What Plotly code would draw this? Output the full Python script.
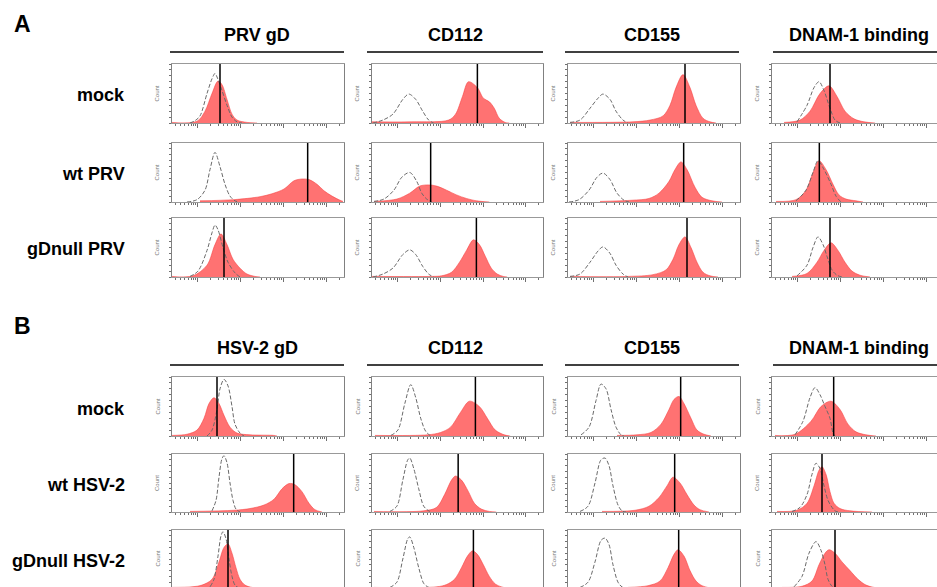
import math
import plotly.graph_objects as go

W, H = 937, 587

# ---------------- data: (fluorescence channel, % of max count) ----------------
# Panel A (PRV)
A_mock_PRVgD_ctrl = ([108,138,168,210,240,258,270,300,330,360,390,420],[0,4,12,50,75,84,78,55,30,10,2,0])
A_mock_PRVgD_red = ([0,150,198,240,276,300,330,360,390,450,510],[1,3,20,50,71,65,40,15,5,1,0])
A_mock_CD112_ctrl = ([6,66,126,186,222,264,306,342,372],[0,5,15,40,49,40,20,5,0])
A_mock_CD112_red = ([0,240,462,504,546,582,636,672,708,738,768,804,828],[2,2,5,15,45,70,60,42,36,25,8,1,0])
A_mock_CD155_ctrl = ([12,72,132,180,210,252,288,330,360],[1,5,25,42,49,40,20,5,0])
A_mock_CD155_red = ([12,390,492,570,612,648,690,732,768,810,852,888],[1,2,5,12,30,60,82,60,30,8,2,0])
A_mock_DNAM_ctrl = ([150,210,252,282,312,348,378,408],[2,30,60,70,55,25,5,0])
A_mock_DNAM_red = ([72,168,228,288,342,390,438,492,552,618],[1,5,20,50,63,45,20,7,2,0])

A_wt_PRVgD_ctrl = ([90,150,198,228,258,288,318,348,378,402],[0,4,20,55,84,60,30,10,2,0])
A_wt_PRVgD_red = ([168,372,528,600,672,732,780,822,870,912,960,1008,1026],[2,4,9,14,22,36,39,38,30,19,10,3,1])
A_wt_CD112_ctrl = ([12,72,132,180,228,270,300,330,360],[1,5,20,42,50,35,15,5,0])
A_wt_CD112_red = ([12,150,228,288,342,390,450,510,570,630,708],[1,5,15,27,29,27,20,12,6,2,0])
A_wt_CD155_ctrl = ([6,66,126,174,210,252,294,336,366],[0,4,20,42,49,38,15,3,0])
A_wt_CD155_red = ([192,384,486,546,606,642,678,714,762,804,864,924],[1,3,6,15,35,55,68,55,25,8,2,0])
A_wt_DNAM_ctrl = ([144,204,246,276,312,354,384,414],[2,20,50,70,55,30,10,0])
A_wt_DNAM_red = ([24,144,204,246,282,324,366,402,444,504,546],[1,4,20,50,70,55,30,12,5,2,0])

A_null_PRVgD_ctrl = ([108,156,210,240,258,276,306,336,378,408],[1,10,45,75,88,80,50,25,7,0])
A_null_PRVgD_red = ([0,126,210,258,294,330,366,408,450,498,528],[1,2,20,55,73,55,30,15,5,1,0])
A_null_CD112_ctrl = ([6,66,126,186,228,264,306,342,372],[0,5,15,38,46,38,18,5,0])
A_null_CD112_red = ([0,360,420,480,528,570,612,648,684,720,756,792,816],[1,1,2,8,25,45,63,55,35,15,5,1,0])
A_null_CD155_ctrl = ([12,72,132,180,210,252,288,330,360],[1,5,25,44,51,40,20,5,0])
A_null_CD155_red = ([12,360,510,588,630,666,702,738,774,810,852,900],[1,1,4,12,30,55,68,50,25,8,2,0])
A_null_DNAM_ctrl = ([150,210,246,276,306,330,360,390,420],[2,20,50,68,55,35,12,3,0])
A_null_DNAM_red = ([120,210,270,312,354,396,438,480,528,588],[1,6,25,45,58,45,25,10,3,0])

# Panel B (HSV-2)
B_mock_HSVgD_ctrl = ([210,240,270,288,312,336,360,378,408,432],[0,10,45,80,96,85,50,20,5,0])
B_mock_HSVgD_red = ([0,90,150,192,222,252,282,312,348,390,468,612,630],[1,3,10,30,55,65,55,35,15,5,2,1,0])
B_mock_CD112_ctrl = ([114,156,198,234,264,294,324,354],[1,10,55,87,65,30,8,0])
B_mock_CD112_red = ([18,336,414,474,534,588,648,696,744,798,834],[1,2,6,15,40,59,50,30,10,2,0])
B_mock_CD155_ctrl = ([78,126,168,198,228,258,288,318,336],[2,15,60,88,80,45,15,2,0])
B_mock_CD155_red = ([294,414,498,558,606,636,666,696,738,774,816,858],[1,2,6,20,45,62,67,55,30,10,3,0])
B_mock_DNAM_ctrl = ([138,186,228,258,288,318,348,366,378],[2,25,65,82,70,50,30,5,0])
B_mock_DNAM_red = ([18,138,234,294,354,408,456,504,564,624],[1,3,25,50,59,45,20,7,2,0])

B_wt_HSVgD_ctrl = ([240,264,282,300,312,330,348,366,384,408],[2,20,60,92,97,85,50,20,5,0])
B_wt_HSVgD_red = ([108,372,468,552,612,660,702,738,780,822,858,900],[1,3,6,12,22,40,49,47,35,15,4,0])
B_wt_CD112_ctrl = ([108,150,186,216,228,252,282,312,342,360],[1,10,55,90,93,75,40,10,2,0])
B_wt_CD112_red = ([12,312,390,438,480,504,540,582,618,660,708,750],[1,2,8,30,55,62,55,35,15,5,1,0])
B_wt_CD155_ctrl = ([72,120,162,198,222,246,270,300,324,348],[1,10,50,90,93,80,45,12,2,0])
B_wt_CD155_red = ([204,402,486,546,594,630,672,714,756,792,846],[1,3,10,25,45,60,50,30,12,4,0])
B_wt_DNAM_ctrl = ([120,168,210,240,264,288,312,336,360,378,396],[1,8,30,65,84,75,45,20,8,2,0])
B_wt_DNAM_red = ([30,150,210,252,282,300,324,348,372,408,468,600],[1,3,15,45,72,78,65,35,15,6,2,0])

B_null_HSVgD_ctrl = ([228,252,276,294,306,324,342,360,378,402],[2,15,55,90,97,85,50,20,5,0])
B_null_HSVgD_red = ([0,120,180,240,282,312,336,360,384,408,438,480,528],[1,2,5,15,45,70,76,60,35,15,5,1,0])
B_null_CD112_ctrl = ([108,150,186,216,228,252,282,312,336,360],[1,10,50,85,88,70,35,8,2,0])
B_null_CD112_red = ([12,390,450,498,540,576,606,636,672,708,744,780,816],[1,2,6,15,35,55,64,58,40,20,7,2,0])
B_null_CD155_ctrl = ([72,120,162,198,222,246,270,300,324,348],[1,10,45,82,86,75,40,10,2,0])
B_null_CD155_red = ([360,480,552,600,636,660,696,732,768,804,852],[1,4,12,35,58,66,55,30,12,4,0])
B_null_DNAM_ctrl = ([132,180,222,264,294,318,336,360,378],[2,20,60,80,65,40,15,3,0])
B_null_DNAM_red = ([60,180,240,282,318,342,378,420,468,516,564,612,660],[1,3,12,40,60,66,60,45,30,15,5,1,0])

# median fluorescence channel of the infected/sample histogram (black line)
A_medians = [[288, 636, 702, 348], [814, 354, 694, 284], [312, 630, 714, 348]]
B_medians = [[270, 624, 676, 370], [730, 520, 640, 300], [336, 612, 664, 378]]

A_columns = ["PRV gD", "CD112", "CD155", "DNAM-1 binding"]
B_columns = ["HSV-2 gD", "CD112", "CD155", "DNAM-1 binding"]
A_rows = ["mock", "wt PRV", "gDnull PRV"]
B_rows = ["mock", "wt HSV-2", "gDnull HSV-2"]

A_ctrl = [[A_mock_PRVgD_ctrl, A_mock_CD112_ctrl, A_mock_CD155_ctrl, A_mock_DNAM_ctrl],
          [A_wt_PRVgD_ctrl, A_wt_CD112_ctrl, A_wt_CD155_ctrl, A_wt_DNAM_ctrl],
          [A_null_PRVgD_ctrl, A_null_CD112_ctrl, A_null_CD155_ctrl, A_null_DNAM_ctrl]]
A_red = [[A_mock_PRVgD_red, A_mock_CD112_red, A_mock_CD155_red, A_mock_DNAM_red],
         [A_wt_PRVgD_red, A_wt_CD112_red, A_wt_CD155_red, A_wt_DNAM_red],
         [A_null_PRVgD_red, A_null_CD112_red, A_null_CD155_red, A_null_DNAM_red]]
B_ctrl = [[B_mock_HSVgD_ctrl, B_mock_CD112_ctrl, B_mock_CD155_ctrl, B_mock_DNAM_ctrl],
          [B_wt_HSVgD_ctrl, B_wt_CD112_ctrl, B_wt_CD155_ctrl, B_wt_DNAM_ctrl],
          [B_null_HSVgD_ctrl, B_null_CD112_ctrl, B_null_CD155_ctrl, B_null_DNAM_ctrl]]
B_red = [[B_mock_HSVgD_red, B_mock_CD112_red, B_mock_CD155_red, B_mock_DNAM_red],
         [B_wt_HSVgD_red, B_wt_CD112_red, B_wt_CD155_red, B_wt_DNAM_red],
         [B_null_HSVgD_red, B_null_CD112_red, B_null_CD155_red, B_null_DNAM_red]]

# ---------------- layout geometry (pixels) ----------------
CH_MAX = 1032
col_px = [(172, 344), (372, 543), (568, 740), (772, 944)]
rows_A_px = [(64, 123), (143, 202), (218, 277)]
rows_B_px = [(377, 436), (454, 512), (530, 588)]
hdr_line_px = [(170, 344), (367, 543), (565, 739), (773, 945)]

major_ticks = [155 + 258 * k for k in range(4)]
minor_ticks = []
for c0 in [155 - 258] + major_ticks:
    for k in range(2, 10):
        v = c0 + 258 * math.log10(k)
        if 0 < v < CH_MAX:
            minor_ticks.append(v)

FONT = "Arial, Liberation Sans, Helvetica, sans-serif"
RED_FILL = "rgba(255,70,70,0.76)"
RED_LINE = "rgba(245,60,60,0.9)"
FRAME = "#999999"
TICK = "#707070"

fig = go.Figure()
layout = dict(width=W, height=H, margin=dict(l=0, r=0, t=0, b=0), autosize=False,
              paper_bgcolor="white", plot_bgcolor="white", showlegend=False)
shapes, annotations = [], []

def px2x(p):
    return p / W

def px2y(p):
    return 1 - p / H

idx = 0
for panel, rows_px, ctrl_set, red_set, meds, cols, rlabels, label_y, hdr_y, line_y in [
        ("A", rows_A_px, A_ctrl, A_red, A_medians, A_columns, A_rows, 24, 35, 52),
        ("B", rows_B_px, B_ctrl, B_red, B_medians, B_columns, B_rows, 326, 348, 365)]:
    annotations.append(dict(text="<b>%s</b>" % panel, x=px2x(22), y=px2y(label_y), xref="paper", yref="paper",
                            showarrow=False, xanchor="center", yanchor="middle",
                            font=dict(family=FONT, size=23, color="black")))
    for c, name in enumerate(cols):
        lx0, lx1 = hdr_line_px[c]
        annotations.append(dict(text="<b>%s</b>" % name, x=px2x((lx0 + lx1) / 2), y=px2y(hdr_y),
                                xref="paper", yref="paper", showarrow=False, xanchor="center",
                                yanchor="middle", font=dict(family=FONT, size=18, color="black")))
        shapes.append(dict(type="line", xref="paper", yref="paper", x0=px2x(lx0), x1=min(px2x(lx1), 1.0),
                           y0=px2y(line_y), y1=px2y(line_y), line=dict(color="black", width=1.5)))
    for r, (ry0, ry1) in enumerate(rows_px):
        annotations.append(dict(text="<b>%s</b>" % rlabels[r], x=px2x(127), y=px2y((ry0 + ry1) / 2 + 2),
                                xref="paper", yref="paper", showarrow=False, xanchor="right",
                                yanchor="middle", font=dict(family=FONT, size=18, color="black")))
        ry1v = min(ry1, H)
        for c, (cx0, cx1) in enumerate(col_px):
            idx += 1
            xa = "x" if idx == 1 else "x%d" % idx
            ya = "y" if idx == 1 else "y%d" % idx
            cx1v = min(cx1, W)
            xr = [0, CH_MAX * (cx1v - cx0) / (cx1 - cx0)]
            yr = [100 * (ry1 - ry1v) / (ry1 - ry0), 100]
            cut_bottom = ry1 > H
            last_col = cx1 > W
            xaxis = dict(domain=[px2x(cx0), px2x(cx1v)], range=xr, anchor=ya, showgrid=False,
                         zeroline=False, showticklabels=False, fixedrange=True,
                         showline=True, linecolor=FRAME, linewidth=1,
                         mirror=not cut_bottom, side="top" if cut_bottom else "bottom",
                         ticks="" if cut_bottom else "outside", ticklen=4, tickwidth=1, tickcolor=TICK,
                         tickmode="array", tickvals=major_ticks,
                         minor=dict(tickmode="array", tickvals=minor_ticks, ticks="" if cut_bottom else "outside",
                                    ticklen=2, tickwidth=1, tickcolor=TICK))
            yaxis = dict(domain=[px2y(ry1v), px2y(ry0)], range=yr, anchor=xa, showgrid=False,
                         zeroline=False, showticklabels=False, fixedrange=True,
                         showline=True, linecolor="#808080", linewidth=1, mirror=not last_col,
                         ticks="outside", ticklen=2, tickwidth=1, tickcolor=TICK,
                         tickmode="linear", tick0=0, dtick=10)
            layout["xaxis" if idx == 1 else "xaxis%d" % idx] = xaxis
            layout["yaxis" if idx == 1 else "yaxis%d" % idx] = yaxis

            rx, rv = red_set[r][c]
            fig.add_trace(go.Scatter(x=rx, y=rv, xaxis=xa, yaxis=ya, mode="lines", fill="tozeroy",
                                     fillcolor=RED_FILL, line=dict(color=RED_LINE, width=0.6,
                                                                   shape="spline", smoothing=0.9),
                                     hoverinfo="skip"))
            kx, kv = ctrl_set[r][c]
            fig.add_trace(go.Scatter(x=kx, y=kv, xaxis=xa, yaxis=ya, mode="lines",
                                     line=dict(color="#6a6a6a", width=1, dash="4px,2px",
                                               shape="spline", smoothing=0.9),
                                     hoverinfo="skip"))
            shapes.append(dict(type="line", xref=xa, yref="%s domain" % ya, x0=meds[r][c], x1=meds[r][c],
                               y0=0, y1=1, line=dict(color="black", width=1.5)))
            annotations.append(dict(text="Count", x=px2x(cx0 - 15), y=px2y((ry0 + min(ry1, H)) / 2),
                                    xref="paper", yref="paper", showarrow=False, textangle=-90,
                                    xanchor="center", yanchor="middle",
                                    font=dict(family=FONT, size=6, color="#777777")))

layout["shapes"] = shapes
layout["annotations"] = annotations
fig.update_layout(**layout)
fig.write_html("out.html", config={"displayModeBar": False})
